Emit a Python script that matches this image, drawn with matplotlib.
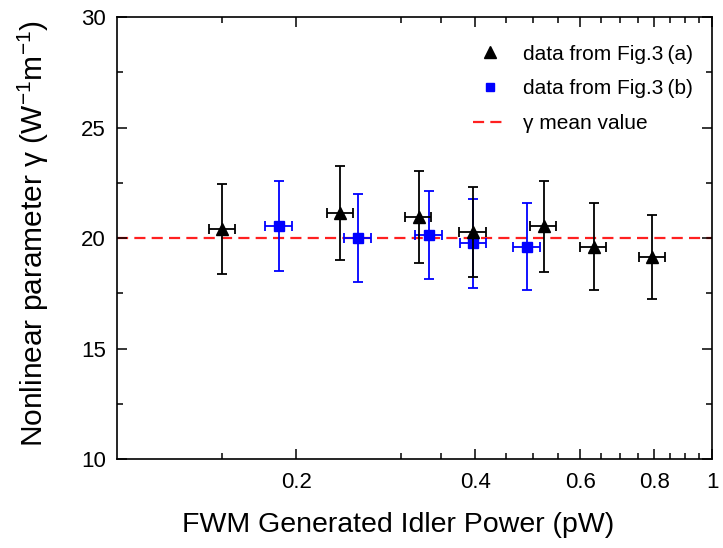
import matplotlib
matplotlib.use("Agg")
import matplotlib.pyplot as plt
from matplotlib.lines import Line2D
from matplotlib.ticker import FixedLocator, NullFormatter

plt.rcParams['font.family'] = ['Liberation Sans', 'DejaVu Sans']
plt.rcParams['mathtext.fontset'] = 'custom'
plt.rcParams['mathtext.rm'] = 'Liberation Sans'
plt.rcParams['mathtext.it'] = 'Liberation Sans:italic'

# data from Fig.3(a)
pa = [0.150, 0.237, 0.321, 0.396, 0.521, 0.632, 0.793]
ga = [20.41, 21.12, 20.97, 20.26, 20.53, 19.62, 19.15]
ga_err = [2.05, 2.12, 2.08, 2.04, 2.05, 1.95, 1.91]
pa_err = [0.0075, 0.012, 0.016, 0.020, 0.026, 0.032, 0.041]

# data from Fig.3(b)
pb = [0.187, 0.254, 0.334, 0.397, 0.488]
gb = [20.53, 20.00, 20.14, 19.76, 19.62]
gb_err = [2.04, 2.00, 2.01, 2.00, 1.98]
pb_err = [0.0095, 0.013, 0.017, 0.020, 0.025]

gamma_mean = 20.0

red = '#ff2020'
dash = (0, (5, 2.8))

fig = plt.figure(figsize=(7.23, 5.48), dpi=100)
ax = fig.add_axes([0.162, 0.162, 0.823, 0.807])

ax.axhline(gamma_mean, color=red, ls=dash, lw=1.6, zorder=1)

ax.errorbar(pa, ga, yerr=ga_err, xerr=pa_err, fmt='^', color='black',
            ms=9, capsize=3.5, elinewidth=1.3, capthick=1.3, zorder=3)
ax.errorbar(pb, gb, yerr=gb_err, xerr=pb_err, fmt='s', color='blue',
            ms=6.5, capsize=3.5, elinewidth=1.3, capthick=1.3, zorder=2)

ax.set_xscale('log')
ax.set_xlim(0.1, 1.0)
ax.set_ylim(10, 30)

ax.xaxis.set_major_locator(FixedLocator([0.2, 0.4, 0.6, 0.8, 1.0]))
ax.xaxis.set_minor_locator(FixedLocator([0.15, 0.3, 0.35, 0.45, 0.5, 0.55,
                                         0.65, 0.7, 0.75, 0.85, 0.9, 0.95]))
ax.xaxis.set_minor_formatter(NullFormatter())
ax.set_xticklabels(['0.2', '0.4', '0.6', '0.8', '1'])
ax.set_yticks([10, 15, 20, 25, 30])
ax.yaxis.set_minor_locator(FixedLocator([12.5, 17.5, 22.5, 27.5]))

ax.tick_params(which='both', direction='in', top=True, right=True,
               labelsize=16, width=1.1)
ax.tick_params(which='major', length=7, pad=9)
ax.tick_params(which='minor', length=4)
ax.tick_params(axis='y', which='major', pad=8)
for s in ax.spines.values():
    s.set_linewidth(1.2)

ax.set_xlabel('FWM Generated Idler Power (pW)', fontsize=20.5, labelpad=14)
ax.xaxis.label.set_x(0.473)
ax.set_ylabel(r'Nonlinear parameter γ (W$^{-1}$m$^{-1}$)', fontsize=21.5,
              labelpad=22)
ax.yaxis.label.set_y(0.51)

handles = [
    Line2D([], [], marker='^', color='black', ls='none', ms=8),
    Line2D([], [], marker='s', color='blue', ls='none', ms=6),
    Line2D([], [], color=red, ls=dash, lw=1.6),
]
labels = ['data from Fig.3\u2009(a)', 'data from Fig.3\u2009(b)', 'γ mean value']
ax.legend(handles, labels, loc='upper right', frameon=False, fontsize=15,
          handlelength=1.6, handletextpad=0.8, labelspacing=0.75,
          bbox_to_anchor=(1.0, 0.98))

fig.savefig('out.png', dpi=100)
